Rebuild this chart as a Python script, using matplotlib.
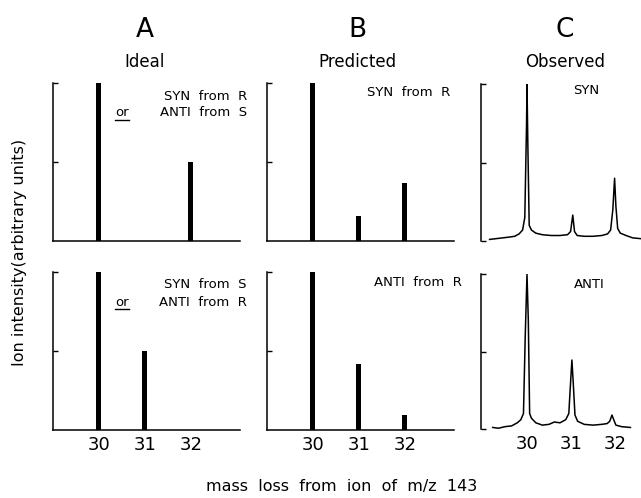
import numpy as np
import matplotlib
matplotlib.use("Agg")
import matplotlib.pyplot as plt

# peak positions (mass loss) and relative heights
masses = [30, 31, 32]
ideal_top = [1.0, 0.0, 0.5]
ideal_bot = [1.0, 0.5, 0.0]
pred_top = [1.0, 0.16, 0.37]
pred_bot = [1.0, 0.42, 0.095]

# observed traces
syn_x = [29.15, 29.3, 29.45, 29.6, 29.72, 29.82, 29.9, 29.95, 29.99, 30.0, 30.02, 30.05,
         30.1, 30.2, 30.35, 30.55, 30.75, 30.92, 30.99, 31.04, 31.08, 31.14, 31.3, 31.5,
         31.7, 31.83, 31.9, 31.95, 31.99, 32.02, 32.06, 32.12, 32.25, 32.4, 32.58]
syn_y = [0.01, 0.015, 0.02, 0.025, 0.03, 0.045, 0.07, 0.15, 0.75, 1.0, 0.6, 0.1,
         0.07, 0.05, 0.04, 0.035, 0.035, 0.04, 0.06, 0.165, 0.06, 0.035, 0.03, 0.03,
         0.035, 0.045, 0.07, 0.2, 0.40, 0.22, 0.08, 0.05, 0.035, 0.02, 0.015]
anti_x = [29.22, 29.35, 29.5, 29.65, 29.78, 29.86, 29.92, 29.96, 30.0, 30.03, 30.06, 30.1,
          30.2, 30.35, 30.5, 30.62, 30.75, 30.88, 30.95, 30.99, 31.02, 31.05, 31.09, 31.15,
          31.3, 31.5, 31.7, 31.82, 31.88, 31.93, 31.97, 32.02, 32.15, 32.35]
anti_y = [0.01, 0.005, 0.015, 0.02, 0.04, 0.06, 0.1, 0.6, 1.0, 0.7, 0.1, 0.07,
          0.04, 0.025, 0.03, 0.045, 0.04, 0.06, 0.1, 0.3, 0.445, 0.3, 0.09, 0.05,
          0.03, 0.025, 0.03, 0.035, 0.05, 0.09, 0.06, 0.025, 0.015, 0.01]

W, H = 641, 498
fig = plt.figure(figsize=(W / 100, H / 100), dpi=100)


def box(left, top, right, bottom):
    return [left / W, 1 - bottom / H, (right - left) / W, (bottom - top) / H]


def fx(px):
    return px / W


def fy(py):
    return 1 - py / H


def style_bar_axes(ax, labels):
    ax.set_xlim(29.0, 33.07)
    ax.set_ylim(0, 1.0)
    for s in ["top", "right"]:
        ax.spines[s].set_visible(False)
    for s in ["left", "bottom"]:
        ax.spines[s].set_linewidth(1.1)
    ax.set_yticks([0.5, 1.0])
    ax.set_yticklabels([])
    ax.tick_params(axis="y", direction="in", length=3.6, width=1.0)
    ax.set_xticks(masses)
    ax.tick_params(axis="x", length=0, pad=4, labelsize=13)
    if not labels:
        ax.set_xticklabels([])


def style_trace_axes(ax, labels):
    ax.set_xlim(28.955, 32.59)
    ax.set_ylim(0, 1.0)
    for s in ["top", "right", "bottom"]:
        ax.spines[s].set_visible(False)
    ax.spines["left"].set_linewidth(1.1)
    ax.set_yticks([0, 0.5, 1.0])
    ax.set_yticklabels([])
    ax.tick_params(axis="y", direction="in", length=3.6, width=1.0)
    ax.set_xticks(masses)
    ax.tick_params(axis="x", length=0, pad=4, labelsize=13)
    if not labels:
        ax.set_xticklabels([])


axA1 = fig.add_axes(box(53, 83, 240, 241))
axA2 = fig.add_axes(box(53, 272, 240, 430))
axB1 = fig.add_axes(box(267, 83, 454, 241))
axB2 = fig.add_axes(box(267, 272, 454, 430))
axC1 = fig.add_axes(box(481, 84, 641, 241))
axC2 = fig.add_axes(box(481, 274, 641, 429))

bw = 0.11
axA1.bar(masses, ideal_top, width=bw, color="black")
axA2.bar(masses, ideal_bot, width=bw, color="black")
axB1.bar(masses, pred_top, width=bw, color="black")
axB2.bar(masses, pred_bot, width=bw, color="black")
axC1.plot(syn_x, syn_y, color="black", lw=1.1)
axC2.plot(anti_x, anti_y, color="black", lw=1.1)

style_bar_axes(axA1, False)
style_bar_axes(axA2, True)
style_bar_axes(axB1, False)
style_bar_axes(axB2, True)
style_trace_axes(axC1, False)
style_trace_axes(axC2, True)

# column headings
for x, letter, sub in [(145, "A", "Ideal"), (357, "B", "Predicted"), (565, "C", "Observed")]:
    fig.text(fx(x), fy(30), letter, fontsize=19, ha="center", va="center")
    fig.text(fx(x), fy(62), sub, fontsize=12, ha="center", va="center")

ann = 9.5
fig.text(fx(247), fy(96), "SYN  from  R", fontsize=ann, ha="right", va="center")
fig.text(fx(247), fy(113), "ANTI  from  S", fontsize=ann, ha="right", va="center")
fig.text(fx(247), fy(284), "SYN  from  S", fontsize=ann, ha="right", va="center")
fig.text(fx(247), fy(302), "ANTI  from  R", fontsize=ann, ha="right", va="center")
for y in [113, 302]:
    fig.text(fx(122), fy(y), "or", fontsize=ann, ha="center", va="center")
    fig.add_artist(plt.Line2D([fx(115), fx(129)], [fy(y + 7), fy(y + 7)],
                              color="black", lw=1.0))

fig.text(fx(450), fy(92), "SYN  from  R", fontsize=ann, ha="right", va="center")
fig.text(fx(462), fy(283), "ANTI  from  R", fontsize=ann, ha="right", va="center")
fig.text(fx(586), fy(90), "SYN", fontsize=ann, ha="center", va="center")
fig.text(fx(589), fy(285), "ANTI", fontsize=ann, ha="center", va="center")

fig.text(fx(20), fy(252), "Ion intensity(arbitrary units)", fontsize=11.5,
         rotation=90, ha="center", va="center")
fig.text(fx(342), fy(486), "mass  loss  from  ion  of  m/z  143", fontsize=11.5,
         ha="center", va="center")

fig.savefig("out.png", dpi=100)
